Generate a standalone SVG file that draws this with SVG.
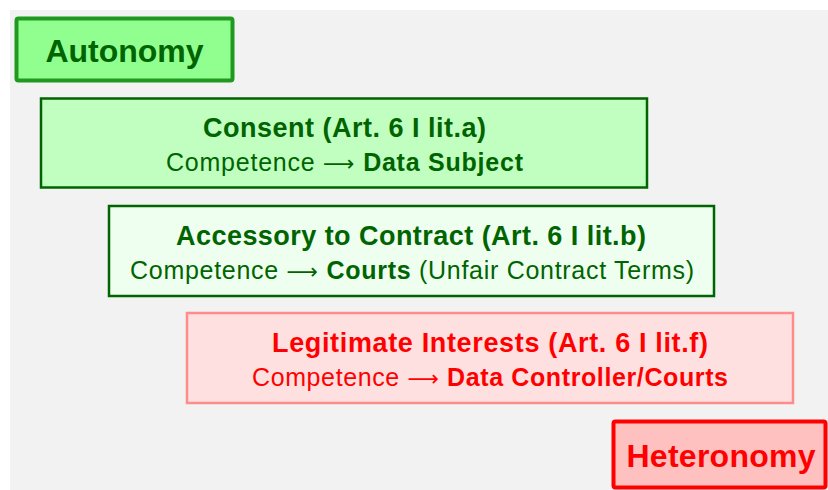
<svg xmlns="http://www.w3.org/2000/svg" width="828" height="490" viewBox="0 0 828 490">
  <style>
    text { font-family: "Liberation Sans", "DejaVu Sans", sans-serif; text-anchor: middle; }
    .g { fill: #006400; }
    .r { fill: #ff0000; }
    .b { font-weight: bold; }
    .arr { font-family: "DejaVu Sans", sans-serif; font-size: 22px; }
    .title { font-size: 27px; font-weight: bold; }
    .sub { font-size: 25px; }
    .end { font-size: 32px; font-weight: bold; }
  </style>
  <!-- panel background -->
  <rect x="10" y="10" width="818" height="480" fill="#f2f2f2"/>

  <g id="autonomy">
    <rect x="16.5" y="18.5" width="216" height="62" rx="2" fill="#90ff90" stroke="#1f9a1f" stroke-width="4"/>
    <text x="124.5" y="62" class="end g" textLength="158">Autonomy</text>
  </g>

  <g id="consent">
    <rect x="41" y="98.5" width="606" height="89" fill="#c0ffc0" stroke="#006400" stroke-width="2.5"/>
    <text x="344.5" y="137" class="title g" textLength="283">Consent (Art. 6 I lit.a)</text>
    <text x="344.5" y="171" class="sub g" textLength="357">Competence <tspan class="arr">⟶</tspan> <tspan class="b">Data Subject</tspan></text>
  </g>

  <g id="contract">
    <rect x="109" y="206" width="605" height="90" fill="#efffef" stroke="#006400" stroke-width="2.5"/>
    <text x="411" y="245" class="title g" textLength="470">Accessory to Contract (Art. 6 I lit.b)</text>
    <text x="412" y="279" class="sub g" textLength="564">Competence <tspan class="arr">⟶</tspan> <tspan class="b">Courts</tspan> (Unfair Contract Terms)</text>
  </g>

  <g id="interests">
    <rect x="187" y="313" width="606" height="90" fill="#ffe0e0" stroke="#ff8c8c" stroke-width="2.5"/>
    <text x="490" y="352" class="title r" textLength="436">Legitimate Interests (Art. 6 I lit.f)</text>
    <text x="490" y="386" class="sub r" textLength="476">Competence <tspan class="arr">⟶</tspan> <tspan class="b">Data Controller/Courts</tspan></text>
  </g>

  <g id="heteronomy">
    <rect x="613.5" y="421.5" width="212" height="66" rx="2" fill="#ffc0c0" stroke="#ff0000" stroke-width="4"/>
    <text x="721" y="467" class="end r" textLength="189">Heteronomy</text>
  </g>
</svg>
